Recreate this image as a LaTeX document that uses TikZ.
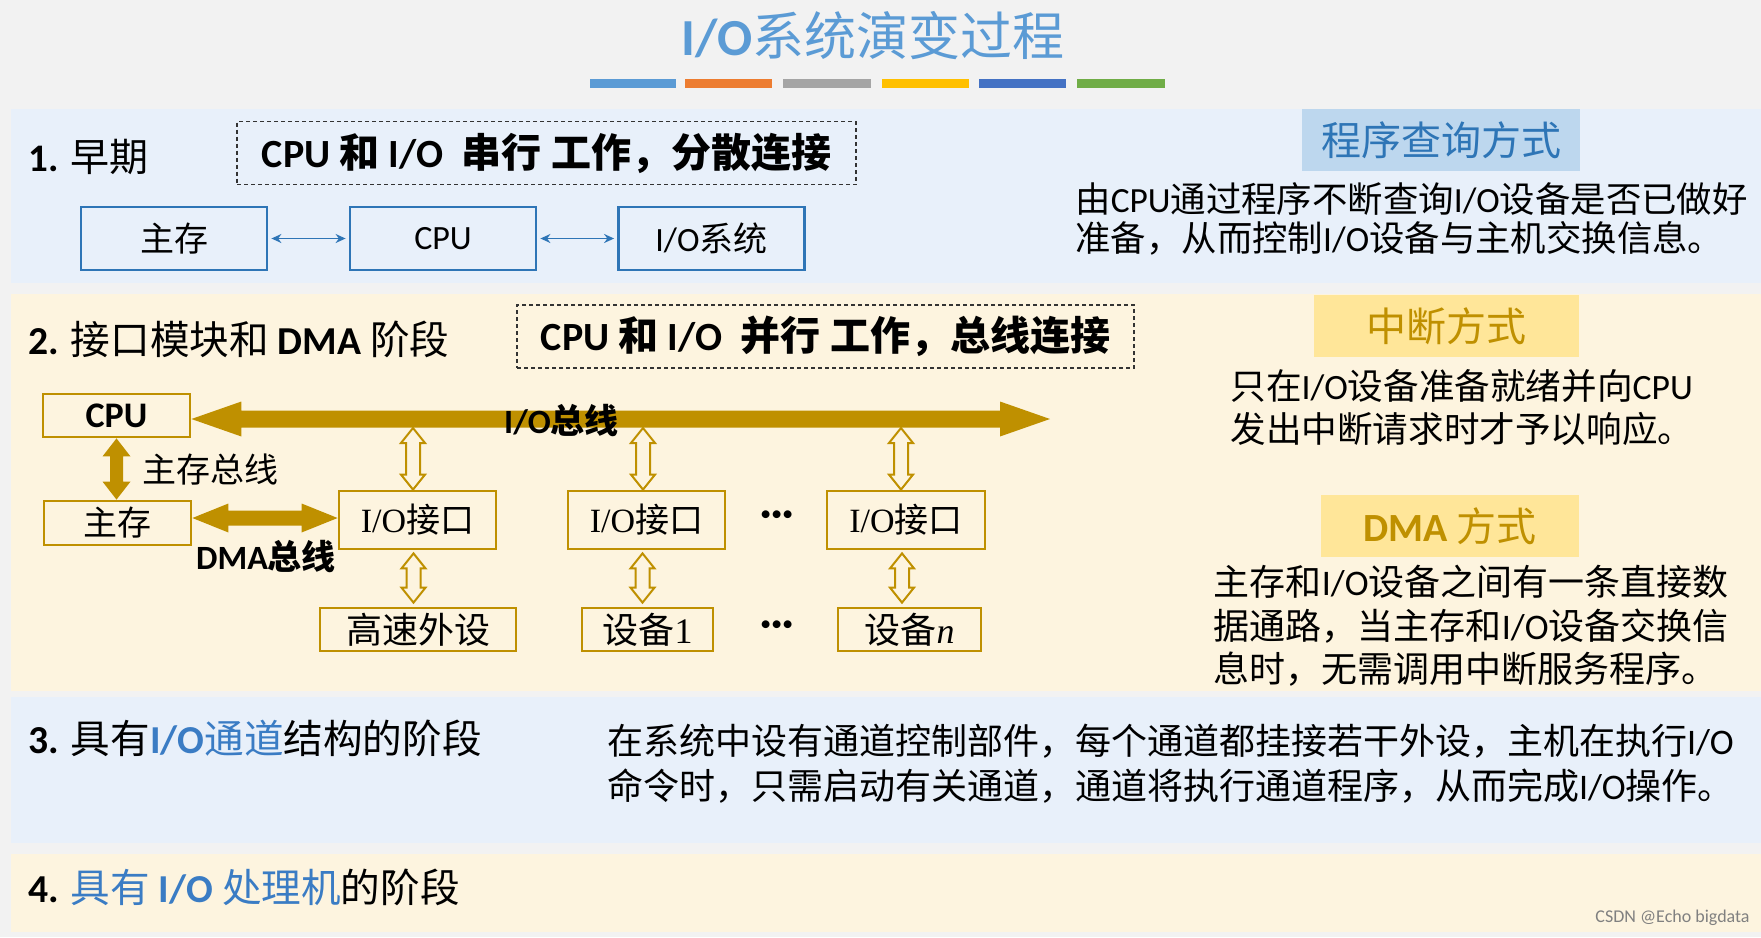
\documentclass[tikz,border=0pt]{standalone}
\usepackage{fontspec}
\setmainfont{Noto Sans CJK SC}
\newfontfamily\carl{Carlito}
\newfontfamily\tmsf{Liberation Serif}
\usetikzlibrary{arrows.meta,calc}
\definecolor{bgray}{HTML}{F2F2F2}
\definecolor{bandA}{HTML}{E8F0FA}
\definecolor{bandB}{HTML}{FDF4DF}
\definecolor{tblue}{HTML}{5B9BD5}
\definecolor{dblue}{HTML}{2E75B6}
\definecolor{hblue}{HTML}{3A7CC4}
\definecolor{lblue}{HTML}{BDD7EE}
\definecolor{gold}{HTML}{BF9000}
\definecolor{lgold}{HTML}{FFE699}
\definecolor{cA}{HTML}{5B9BD5}
\definecolor{cB}{HTML}{ED7D31}
\definecolor{cC}{HTML}{A5A5A5}
\definecolor{cD}{HTML}{FFC000}
\definecolor{cE}{HTML}{4472C4}
\definecolor{cF}{HTML}{70AD47}
\newcommand\fsz[1]{\fontsize{#1pt}{#1pt}\selectfont}
\tikzset{
  blbox/.style={draw=dblue, line width=1.4pt, fill=bandA, minimum width=93pt, minimum height=31.5pt, inner sep=0pt, font=\fsz{17}},
  gbox/.style={draw=gold, line width=1.4pt, fill=bandB, inner sep=0pt},
  dashbox/.style={draw=black!80, line width=0.7pt, dash pattern=on 2pt off 1.5pt, inner sep=0pt, minimum height=31.5pt, font=\fsz{20}\bfseries},
  tagbox/.style={inner sep=0pt, minimum height=31pt, font=\fsz{20}},
  lbl/.style={anchor=west, inner sep=0pt},
  thinarr/.style={dblue, line width=0.9pt, {Stealth[length=5pt,width=4.5pt]}-{Stealth[length=5pt,width=4.5pt]}, shorten <=1.5pt, shorten >=1.5pt},
  hdarrow/.style n args={3}{to path={let \p1=(\tikztostart), \p2=(\tikztotarget) in
    (\x1,\y1) -- (\x1+#3,\y1+#2) -- (\x1+#3,\y1+#1) -- (\x2-#3,\y1+#1) -- (\x2-#3,\y1+#2) -- (\x2,\y1)
    -- (\x2-#3,\y1-#2) -- (\x2-#3,\y1-#1) -- (\x1+#3,\y1-#1) -- (\x1+#3,\y1-#2) -- cycle}},
  vdarrow/.style n args={3}{to path={let \p1=(\tikztostart), \p2=(\tikztotarget) in
    (\x1,\y1) -- (\x1+#2,\y1-#3) -- (\x1+#1,\y1-#3) -- (\x1+#1,\y2+#3) -- (\x1+#2,\y2+#3) -- (\x1,\y2)
    -- (\x1-#2,\y2+#3) -- (\x1-#1,\y2+#3) -- (\x1-#1,\y1-#3) -- (\x1-#2,\y1-#3) -- cycle}},
  hollow/.style={draw=gold, line width=1pt, fill=bandB, line join=miter, vdarrow={3.5pt}{6pt}{7.5pt}},
  dots/.style={font=\fsz{21}\carl\bfseries, inner sep=0pt},
}
\begin{document}
\begin{tikzpicture}[x=0.5pt, y=-0.5pt]
\useasboundingbox (0,0) rectangle (1761,937);
\fill[bgray] (0,0) rectangle (1761,937);
% bands
\fill[bandA] (11,109) rectangle (1761,283);
\fill[bandB] (11,294) rectangle (1761,691);
\fill[bandA] (11,697) rectangle (1761,843);
\fill[bandB] (11,854) rectangle (1761,932);
% title
\node[font=\fsz{26}, text=tblue, inner sep=0pt] (title) at (873,36) {{\carl\bfseries I/O}系统演变过程};
\fill[cA] (590,79) rectangle (676,88);
\fill[cB] (685,79) rectangle (772,88);
\fill[cC] (783,79) rectangle (871,88);
\fill[cD] (882,79) rectangle (969,88);
\fill[cE] (979,79) rectangle (1066,88);
\fill[cF] (1077,79) rectangle (1165,88);

% ---------- section 1
\node[lbl, font=\fsz{19.5}] (h1) at (28,157) {{\carl\bfseries 1.} 早期};
\node[dashbox, minimum width=309.5pt] (d1) at (546.5,153) {{\carl CPU} 和 {\carl I/O}\ \ 串行 工作，分散连接\hspace{6pt}};
\node[blbox] (m1) at (174,238.5) {主存};
\node[blbox] (c1) at (443,238.5) {{\carl CPU}};
\node[blbox] (s1) at (711.5,238.5) {{\carl I/O}系统};
\draw[thinarr] (m1.east) -- (c1.west);
\draw[thinarr] (c1.east) -- (s1.west);
\node[tagbox, fill=lblue, minimum width=139pt, text=dblue] (pq) at (1441,140) {程序查询方式};
\node[lbl, font=\fsz{17.7}] (t1a) at (1075,199) {由{\carl CPU}通过程序不断查询{\carl I/O}设备是否已做好};
\node[lbl, font=\fsz{17.7}] (t1b) at (1075,238) {准备，从而控制{\carl I/O}设备与主机交换信息。};

% ---------- section 2
\node[lbl, font=\fsz{19.8}] (h2) at (28,339) {{\carl\bfseries 2.} 接口模块和 {\carl\bfseries DMA} 阶段};
\node[dashbox, minimum width=308.5pt] (d2) at (825.5,336.5) {{\carl CPU} 和 {\carl I/O}\ \ 并行 工作，总线连接\hspace{6pt}};
\node[tagbox, fill=lgold, minimum width=132.5pt, text=gold] (zd) at (1446.5,326) {中断方式};
\node[lbl, font=\fsz{17.8}] (t2a) at (1230,386.5) {只在{\carl I/O}设备准备就绪并向{\carl CPU}};
\node[lbl, font=\fsz{17.8}] (t2b) at (1230,429) {发出中断请求时才予以响应。};
\node[tagbox, fill=lgold, minimum width=129pt, text=gold] (dm) at (1450,526) {{\carl\bfseries DMA} 方式};
\node[lbl, font=\fsz{18}] (t3a) at (1213.5,582) {主存和{\carl I/O}设备之间有一条直接数};
\node[lbl, font=\fsz{18}] (t3b) at (1213.5,626) {据通路，当主存和{\carl I/O}设备交换信};
\node[lbl, font=\fsz{18}] (t3c) at (1213.5,669.6) {息时，无需调用中断服务程序。};

% diagram
\node[gbox, minimum width=73.5pt, minimum height=21.5pt, font=\fsz{18}] (cpu2) at (116.5,415.5) {{\carl\bfseries CPU}};
\node[gbox, minimum width=73.5pt, minimum height=22pt, font=\fsz{17}] (mem2) at (117.5,523) {主存};
\node[gbox, minimum width=78.5pt, minimum height=29pt, font=\fsz{17}] (ifa) at (417.5,520) {{\tmsf I/O}接口};
\node[gbox, minimum width=78.5pt, minimum height=29pt, font=\fsz{17}] (ifb) at (646.5,520) {{\tmsf I/O}接口};
\node[gbox, minimum width=79pt, minimum height=29pt, font=\fsz{17}] (ifc) at (906,520) {{\tmsf I/O}接口};
\node[gbox, minimum width=98pt, minimum height=21.5pt, font=\fsz{18}] (da) at (418,629.5) {高速外设};
\node[gbox, minimum width=65.5pt, minimum height=21.5pt, font=\fsz{18}] (db) at (647.5,629.5) {设备{\tmsf 1}};
\node[gbox, minimum width=71.5pt, minimum height=21.5pt, font=\fsz{18}] (dc) at (909.5,629.5) {设备{\tmsf\itshape n}};
\coordinate (busend) at (1050,419);
\coordinate (busstart) at (cpu2.east |- busend);
\fill[gold] (busstart) to[hdarrow={4.25pt}{8.75pt}{25pt}] (busend);
\fill[gold] (cpu2.south) to[vdarrow={3.25pt}{7pt}{9pt}] (mem2.north);
\coordinate (dmastart) at (mem2.east |- 0,518);
\coordinate (dmaend) at (ifa.west |- 0,518);
\fill[gold] (dmastart) to[hdarrow={3.75pt}{7.25pt}{18pt}] (dmaend);
\node[font=\fsz{17}\bfseries, inner sep=0pt] (iobl) at (561.5,421) {{\carl I/O}总线};
\node[lbl, font=\fsz{17}] (mbl) at (142,470) {主存总线};
\node[font=\fsz{17}\bfseries, inner sep=0pt] (dbl) at (266,557) {{\carl DMA}总线};
\coordinate (ta) at (413,428);
\coordinate (tb) at (643,428);
\coordinate (tc) at (901,428);
\draw[hollow] (ta) to (ifa.north);
\draw[hollow] (tb) to (ifb.north);
\draw[hollow] (tc) to (ifc.north);
\draw[hollow] ($(ifa.south)+(-4,3)$) to ($(da.north)+(0,-4)$);
\draw[hollow] ($(ifb.south)+(-4,3)$) to ($(db.north)+(0,-4)$);
\draw[hollow] ($(ifc.south)+(-4,3)$) to ($(dc.north)+(0,-4)$);
\node[dots] (e1) at (777,519) {···};
\node[dots] (e2) at (777,629) {···};

% ---------- section 3
\node[lbl, font=\fsz{19.8}] (h3) at (28,738) {{\carl\bfseries 3.} 具有{\color{hblue}{\carl\bfseries I/O}通道}结构的阶段};
\node[lbl, font=\fsz{18}] (t4a) at (606.6,741.5) {在系统中设有通道控制部件，每个通道都挂接若干外设，主机在执行{\carl I/O}};
\node[lbl, font=\fsz{18}] (t4b) at (606.6,786.5) {命令时，只需启动有关通道，通道将执行通道程序，从而完成{\carl I/O}操作。};

% ---------- section 4
\node[lbl, font=\fsz{19.8}] (h4) at (28,887.6) {{\carl\bfseries 4.} {\color{hblue}具有 {\carl\bfseries I/O} 处理机}的阶段};

\node[anchor=east, inner sep=0pt, font=\fsz{9}, text=gray] (wm) at (1750,918) {{\carl CSDN @Echo bigdata}};
\end{tikzpicture}
\end{document}
